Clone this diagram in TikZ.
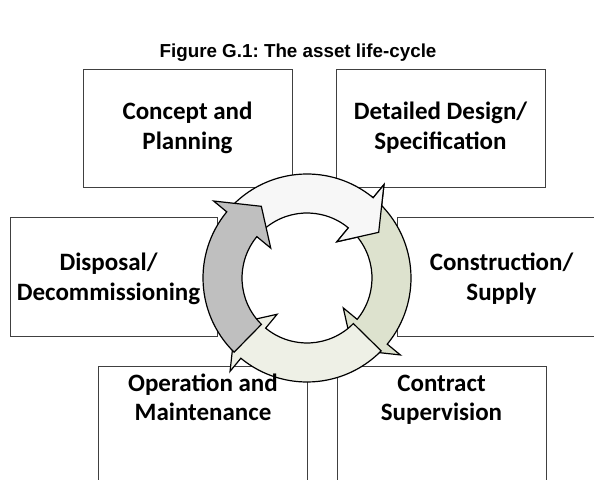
\documentclass[tikz,border=0pt]{standalone}
\usepackage{fontspec}
\setmainfont{Carlito}
\newfontfamily\titlefont{Liberation Sans}
\frenchspacing
\definecolor{arwhite}{HTML}{F7F7F7}
\definecolor{argreen}{HTML}{DDE2CE}
\definecolor{arpale}{HTML}{EEF0E6}
\definecolor{argray}{HTML}{BFBFBF}
\newcommand\cycArrow[3]{%
  \path[arr, fill=#3, shift={(307,201)}]
    (#1:104) arc[start angle=#1, end angle=#2, radius=104]
    -- (#2:121) -- ({#2-18}:85) -- (#2:47) -- (#2:65)
    arc[start angle=#2, end angle=#1, radius=65] -- cycle;}
\begin{document}
\begin{tikzpicture}[x=1pt,y=1pt,
  box/.style={draw=black!75, line width=0.8pt, rectangle, inner sep=0pt, anchor=south west},
  lbl/.style={font=\fontsize{25}{30}\selectfont\bfseries, align=center, inner sep=0pt},
  arr/.style={draw=black, line width=1.2pt, line join=miter}]
\fill[white] (0,0) rectangle (594,479);
\useasboundingbox (0,0) rectangle (594,479);
\clip (0,0) rectangle (594,479);
% boxes
\node[box, minimum width=209, minimum height=118] (bTL) at (83,291) {};
\node[box, minimum width=209, minimum height=118] (bTR) at (336,291) {};
\node[box, minimum width=207, minimum height=119] (bML) at (10,142) {};
\node[box, minimum width=209, minimum height=119] (bMR) at (397,142) {};
\node[box, minimum width=209, minimum height=118] (bBL) at (98,-6) {};
\node[box, minimum width=209, minimum height=118] (bBR) at (337,-6) {};
% cycle arrows
\cycArrow{135.5}{50.5}{arwhite}
\cycArrow{45.5}{-39.5}{argreen}
\cycArrow{-44.5}{-129.5}{arpale}
\cycArrow{-134.5}{-219.5}{argray}
\begin{scope}
  \clip (307,201) -- ++(25:140) arc[start angle=25, end angle=52, radius=140] -- cycle;
  \cycArrow{135.5}{50.5}{arwhite}
\end{scope}
% title
\node[font=\titlefont\bfseries\fontsize{18.8}{22}\selectfont] (title) at (298,426) {Figure G.1: The asset life-cycle};
% labels
\node[lbl] (tTL) at (187.5,350) {\strut Concept and\\\strut Planning};
\node[lbl] (tTR) at (440.5,350) {\strut Detailed Design/\\\strut Specification};
\node[lbl] (tML) at (108.5,199) {\strut Disposal/\\\strut Decommissioning};
\node[lbl] (tMR) at (501.5,199) {\strut Construction/\\\strut Supply};
\node[lbl] (tBL) at (203,79) {\strut Operation and\\\strut Maintenance};
\node[lbl] (tBR) at (441.5,79) {\strut Contract\\\strut Supervision};
\end{tikzpicture}
\end{document}
